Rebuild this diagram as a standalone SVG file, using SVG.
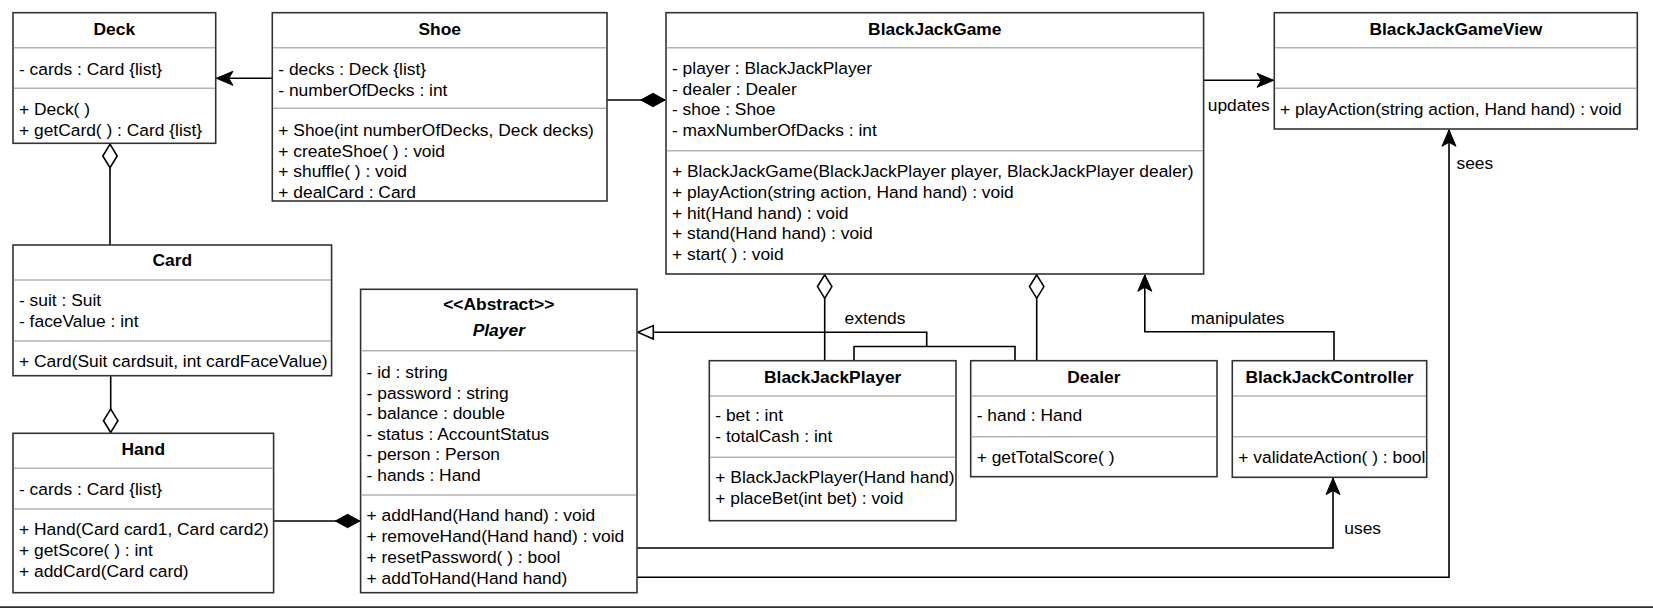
<svg xmlns="http://www.w3.org/2000/svg" width="1653" height="608" viewBox="0 0 1653 608">
<style>
.box{fill:#fff;stroke:#333;stroke-width:1.6}
.dv{stroke:#b3b3b3;stroke-width:1.6}
text{font-family:"Liberation Sans",Arial,Helvetica,sans-serif;font-size:17.4px;fill:#000}
.b{font-weight:bold;text-anchor:middle}
.i{font-style:italic}
.m{text-anchor:middle}
.edge{fill:none;stroke:#000;stroke-width:1.6}
</style>
<defs>
<marker id="arrow" viewBox="-18 -9 19 18" refX="0" refY="0" markerWidth="19" markerHeight="18" markerUnits="userSpaceOnUse" orient="auto" overflow="visible">
<path d="M0,0 L-16.5,-7 L-12.5,0 L-16.5,7 Z" fill="#000" stroke="#000" stroke-width="1"/>
</marker>
<marker id="tri" viewBox="-18 -9 19 18" refX="0" refY="0" markerWidth="19" markerHeight="18" markerUnits="userSpaceOnUse" orient="auto" overflow="visible">
<path d="M0,0 L-15.5,-6.7 L-15.5,6.7 Z" fill="#fff" stroke="#000" stroke-width="1.6"/>
</marker>
<marker id="dfill" viewBox="-2 -9 28 18" refX="0" refY="0" markerWidth="28" markerHeight="18" markerUnits="userSpaceOnUse" orient="auto" overflow="visible">
<path d="M0,0 L12.2,-6.7 L24.5,0 L12.2,6.7 Z" fill="#000" stroke="#000" stroke-width="1"/>
</marker>
<marker id="dhollow" viewBox="-2 -9 28 18" refX="0" refY="0" markerWidth="28" markerHeight="18" markerUnits="userSpaceOnUse" orient="auto" overflow="visible">
<path d="M0,0 L11.8,-7.2 L23.5,0 L11.8,7.2 Z" fill="#fff" stroke="#000" stroke-width="1.6"/>
</marker>
</defs>

<g id="connectors">
<path class="edge" d="M272.3,78.3 L216.4,78.3" marker-end="url(#arrow)"/>
<path class="edge" d="M665.2,100 L607,100" marker-start="url(#dfill)"/>
<path class="edge" d="M1203.6,80.3 L1273.6,80.3" marker-end="url(#arrow)"/>
<path class="edge" d="M110,144.2 L110,245" marker-start="url(#dhollow)"/>
<path class="edge" d="M110.7,432.5 L110.7,375.7" marker-start="url(#dhollow)"/>
<path class="edge" d="M359.8,521 L273.6,521" marker-start="url(#dfill)"/>
<path class="edge" d="M824.7,274.8 L824.7,360.7" marker-start="url(#dhollow)"/>
<path class="edge" d="M1036.7,274.8 L1036.7,360.7" marker-start="url(#dhollow)"/>
<path class="edge" d="M926.7,346.5 L926.7,332.3 L637.8,332.3" marker-end="url(#tri)"/>
<path class="edge" d="M854,360.7 L854,346.5 L1015,346.5 L1015,360.7"/>
<path class="edge" d="M1334,360.7 L1334,331.7 L1144.8,331.7 L1144.8,274.8" marker-end="url(#arrow)"/>
<path class="edge" d="M637,548 L1333,548 L1333,478.1" marker-end="url(#arrow)"/>
<path class="edge" d="M637,577.3 L1449,577.3 L1449,129.8" marker-end="url(#arrow)"/>
<text class="m" x="875" y="323.5">extends</text>
<text class="m" x="1237.7" y="323.5">manipulates</text>
<text class="m" x="1238.7" y="110.5">updates</text>
<text x="1344.3" y="533.9">uses</text>
<text x="1456.5" y="168.9">sees</text>
</g>

<g id="Deck">
<rect class="box" x="13" y="12.7" width="202.7" height="130.6"/>
<line class="dv" x1="13.8" y1="47.7" x2="214.9" y2="47.7"/>
<line class="dv" x1="13.8" y1="88.3" x2="214.9" y2="88.3"/>
<text class="b" x="114.3" y="35.2">Deck</text>
<text x="19" y="74.5">- cards : Card {list}</text>
<text x="19" y="115.2">+ Deck( )</text>
<text x="19" y="135.9">+ getCard( ) : Card {list}</text>
</g>

<g id="Shoe">
<rect class="box" x="272.3" y="12.7" width="334.7" height="188.3"/>
<line class="dv" x1="273.1" y1="47.7" x2="606.2" y2="47.7"/>
<line class="dv" x1="273.1" y1="108.3" x2="606.2" y2="108.3"/>
<text class="b" x="439.7" y="35.2">Shoe</text>
<text x="278.3" y="74.5">- decks : Deck {list}</text>
<text x="278.3" y="95.5">- numberOfDecks : int</text>
<text x="278.3" y="136.2">+ Shoe(int numberOfDecks, Deck decks)</text>
<text x="278.3" y="156.9">+ createShoe( ) : void</text>
<text x="278.3" y="177.2">+ shuffle( ) : void</text>
<text x="278.3" y="197.7">+ dealCard : Card</text>
</g>

<g id="BlackJackGame">
<rect class="box" x="666" y="12.7" width="537.6" height="261.3"/>
<line class="dv" x1="666.8" y1="47.7" x2="1202.8" y2="47.7"/>
<line class="dv" x1="666.8" y1="150.7" x2="1202.8" y2="150.7"/>
<text class="b" x="934.8" y="35.2">BlackJackGame</text>
<text x="672" y="73.9">- player : BlackJackPlayer</text>
<text x="672" y="94.6">- dealer : Dealer</text>
<text x="672" y="115.3">- shoe : Shoe</text>
<text x="672" y="136">- maxNumberOfDacks : int</text>
<text x="672" y="177.2">+ BlackJackGame(BlackJackPlayer player, BlackJackPlayer dealer)</text>
<text x="672" y="197.9">+ playAction(string action, Hand hand) : void</text>
<text x="672" y="218.6">+ hit(Hand hand) : void</text>
<text x="672" y="239.3">+ stand(Hand hand) : void</text>
<text x="672" y="260">+ start( ) : void</text>
</g>

<g id="BlackJackGameView">
<rect class="box" x="1274.3" y="12.7" width="363" height="116.3"/>
<line class="dv" x1="1275.1" y1="47.7" x2="1636.5" y2="47.7"/>
<line class="dv" x1="1275.1" y1="88.3" x2="1636.5" y2="88.3"/>
<text class="b" x="1455.8" y="35.2">BlackJackGameView</text>
<text x="1280" y="114.5">+ playAction(string action, Hand hand) : void</text>
</g>

<g id="Card">
<rect class="box" x="13" y="245" width="318.6" height="130.7"/>
<line class="dv" x1="13.8" y1="280" x2="330.8" y2="280"/>
<line class="dv" x1="13.8" y1="341" x2="330.8" y2="341"/>
<text class="b" x="172.3" y="266.2">Card</text>
<text x="19" y="305.5">- suit : Suit</text>
<text x="19" y="326.7">- faceValue : int</text>
<text x="19" y="366.7">+ Card(Suit cardsuit, int cardFaceValue)</text>
</g>

<g id="Hand">
<rect class="box" x="13" y="433.3" width="260.6" height="159.4"/>
<line class="dv" x1="13.8" y1="468.3" x2="272.8" y2="468.3"/>
<line class="dv" x1="13.8" y1="509" x2="272.8" y2="509"/>
<text class="b" x="143.3" y="455.2">Hand</text>
<text x="19" y="494.5">- cards : Card {list}</text>
<text x="19" y="535.2">+ Hand(Card card1, Card card2)</text>
<text x="19" y="555.9">+ getScore( ) : int</text>
<text x="19" y="576.6">+ addCard(Card card)</text>
</g>

<g id="Player">
<rect class="box" x="360.6" y="289.3" width="276.4" height="303.4"/>
<line class="dv" x1="361.4" y1="350.7" x2="636.2" y2="350.7"/>
<line class="dv" x1="361.4" y1="495" x2="636.2" y2="495"/>
<text class="b" x="498.8" y="310.2">&lt;&lt;Abstract&gt;&gt;</text>
<text class="b i" x="498.8" y="336.2">Player</text>
<text x="366.6" y="377.9">- id : string</text>
<text x="366.6" y="398.5">- password : string</text>
<text x="366.6" y="419.1">- balance : double</text>
<text x="366.6" y="439.7">- status : AccountStatus</text>
<text x="366.6" y="460.3">- person : Person</text>
<text x="366.6" y="480.9">- hands : Hand</text>
<text x="366.6" y="520.8">+ addHand(Hand hand) : void</text>
<text x="366.6" y="541.7">+ removeHand(Hand hand) : void</text>
<text x="366.6" y="562.6">+ resetPassword( ) : bool</text>
<text x="366.6" y="583.5">+ addToHand(Hand hand)</text>
</g>

<g id="BlackJackPlayer">
<rect class="box" x="709.3" y="360.7" width="246.7" height="160"/>
<line class="dv" x1="710.1" y1="396" x2="955.2" y2="396"/>
<line class="dv" x1="710.1" y1="457.3" x2="955.2" y2="457.3"/>
<text class="b" x="832.7" y="382.9">BlackJackPlayer</text>
<text x="715.3" y="421.2">- bet : int</text>
<text x="715.3" y="442.2">- totalCash : int</text>
<text x="715.3" y="482.9">+ BlackJackPlayer(Hand hand)</text>
<text x="715.3" y="503.9">+ placeBet(int bet) : void</text>
</g>

<g id="Dealer">
<rect class="box" x="970.7" y="360.7" width="246.3" height="116"/>
<line class="dv" x1="971.5" y1="396" x2="1216.2" y2="396"/>
<line class="dv" x1="971.5" y1="436.7" x2="1216.2" y2="436.7"/>
<text class="b" x="1093.9" y="382.9">Dealer</text>
<text x="976.7" y="421.2">- hand : Hand</text>
<text x="976.7" y="462.9">+ getTotalScore( )</text>
</g>

<g id="BlackJackController">
<rect class="box" x="1232.3" y="360.7" width="194.4" height="116.6"/>
<line class="dv" x1="1233.1" y1="396" x2="1425.9" y2="396"/>
<line class="dv" x1="1233.1" y1="436.7" x2="1425.9" y2="436.7"/>
<text class="b" x="1329.5" y="382.9">BlackJackController</text>
<text x="1238.3" y="462.7">+ validateAction( ) : bool</text>
</g>

<rect x="0" y="606.2" width="1653" height="1.8" fill="#333"/>
</svg>
